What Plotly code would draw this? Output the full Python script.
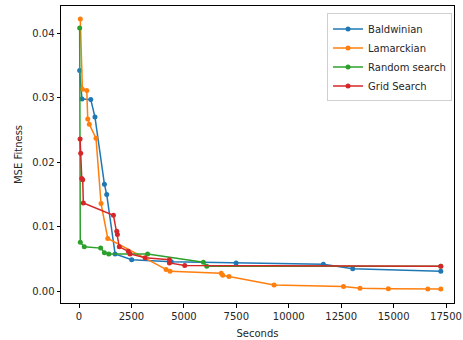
import plotly.graph_objects as go

# Data
bald_x = [30, 140, 560, 760, 1210, 1320, 1720, 2510, 4400, 7490, 11650, 13050, 17250]
bald_y = [0.0342, 0.0298, 0.0297, 0.0270, 0.0166, 0.0150, 0.0058, 0.0049, 0.0046, 0.0044, 0.0042, 0.0035, 0.0031]

lam_x = [60, 160, 370, 415, 490, 810, 1050, 1370, 4150, 4340, 6780, 6850, 7150, 9300, 12610, 13400, 14750, 16630, 17250]
lam_y = [0.0422, 0.0313, 0.0311, 0.0267, 0.0259, 0.0237, 0.0136, 0.0082, 0.0034, 0.0031, 0.0028, 0.0025, 0.0023, 0.0010, 0.00075, 0.0005, 0.0004, 0.00035, 0.00035]

rand_x = [30, 60, 250, 1030, 1210, 1420, 3270, 5930, 6090, 17250]
rand_y = [0.0408, 0.0076, 0.0069, 0.0067, 0.0060, 0.0058, 0.0058, 0.0045, 0.0039, 0.0039]

grid_x = [50, 80, 130, 175, 205, 1640, 1800, 1830, 1920, 2350, 2430, 3150, 4310, 4310, 5040, 17250]
grid_y = [0.0236, 0.0214, 0.0175, 0.0173, 0.0137, 0.0118, 0.0093, 0.0088, 0.0069, 0.0062, 0.0058, 0.0052, 0.0049, 0.0044, 0.0040, 0.0039]

series = [
    ("Baldwinian", bald_x, bald_y, "#1f77b4"),
    ("Lamarckian", lam_x, lam_y, "#ff7f0e"),
    ("Random search", rand_x, rand_y, "#2ca02c"),
    ("Grid Search", grid_x, grid_y, "#d62728"),
]

x_ticks = [0, 2500, 5000, 7500, 10000, 12500, 15000, 17500]
y_ticks = [0.0, 0.01, 0.02, 0.03, 0.04]

fig = go.Figure()
for name, xs, ys, col in series:
    fig.add_trace(go.Scatter(
        x=xs, y=ys, name=name, mode="lines+markers",
        line=dict(color=col, width=1.5),
        marker=dict(color=col, size=5),
    ))

font = dict(family="DejaVu Sans", size=10, color="#262626")
axis_common = dict(
    showline=True, linecolor="black", linewidth=1, mirror=True,
    ticks="outside", ticklen=3.5, tickcolor="black", tickwidth=1,
    showgrid=False, zeroline=False, tickfont=font, automargin=False,
)

fig.update_layout(
    width=463, height=340,
    margin=dict(l=61, r=9, t=6, b=37),
    plot_bgcolor="white", paper_bgcolor="white",
    font=font,
    xaxis=dict(range=[-860, 17880], tickvals=x_ticks,
               ticktext=[str(v) for v in x_ticks],
               title=dict(text="Seconds", font=font, standoff=9), **axis_common),
    yaxis=dict(range=[-0.0018, 0.0442], tickvals=y_ticks,
               ticktext=[f"{v:.2f}" for v in y_ticks],
               title=dict(text="MSE Fitness", font=font, standoff=7), **axis_common),
    legend=dict(x=0.995, y=0.975, xanchor="right", yanchor="top",
                bordercolor="#d0d0d0", borderwidth=1, bgcolor="rgba(255,255,255,0.8)",
                font=font, itemwidth=30, tracegroupgap=0),
    showlegend=True,
)

fig.write_html("out.html", config={"displayModeBar": False},
               post_script="document.body.style.margin='0';document.body.style.padding='0';")
